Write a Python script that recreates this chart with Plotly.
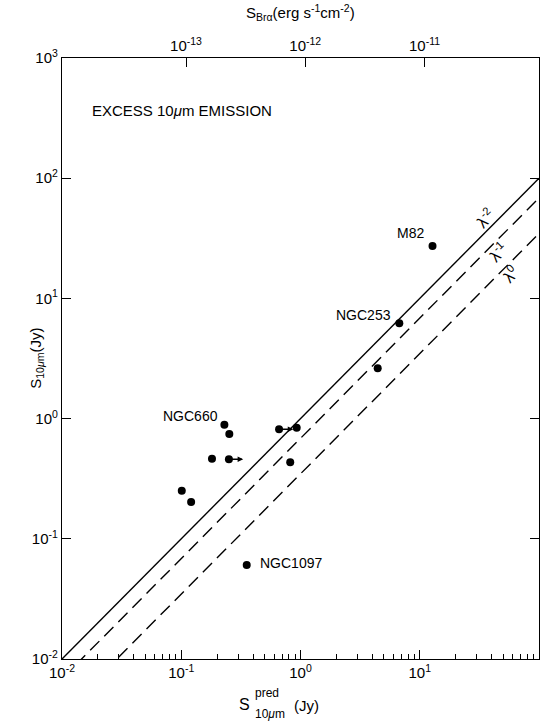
import numpy as np
import plotly.graph_objects as go

# ---- data ----
galaxy_names = ["M82", "NGC253", "", "NGC660", "", "", "", "", "", "", "", "", "NGC1097"]
s_pred = [12.8, 6.74, 4.44, 0.230, 0.253, 0.181, 0.251, 0.661, 0.929, 0.82, 0.101, 0.121, 0.354]
s_obs = [27.3, 6.2, 2.62, 0.89, 0.745, 0.464, 0.459, 0.815, 0.84, 0.433, 0.251, 0.202, 0.0605]
lower_limit = [False, False, False, False, False, False, True, True, False, False, False, False, False]

line_labels = ["λ<sup>-2</sup>", "λ<sup>-1</sup>", "λ<sup>0</sup>"]
line_factors = [1.0, 0.685, 0.347]
line_dashes = ["solid", "13px,7px", "13px,7px"]

x_ticks = [1e-2, 1e-1, 1e0, 1e1, 1e2]
x_ticktext = ["10<sup>-2</sup>", "10<sup>-1</sup>", "10<sup>0</sup>", "10<sup>1</sup>", "10<sup>2</sup>"]
y_ticks = [1e-2, 1e-1, 1e0, 1e1, 1e2, 1e3]
y_ticktext = ["10<sup>-2</sup>", "10<sup>-1</sup>", "10<sup>0</sup>", "10<sup>1</sup>",
              "10<sup>2</sup>", "10<sup>3</sup>"]
top_ticks = [1e-13, 1e-12, 1e-11]
top_ticktext = ["10<sup>-13</sup>", "10<sup>-12</sup>", "10<sup>-11</sup>"]

FONT = "Liberation Sans, Arial, sans-serif"
BLK = "black"
fig = go.Figure()

xx = np.array([1e-2, 1e2])
for f, d in zip(line_factors, line_dashes):
    fig.add_trace(go.Scatter(x=xx, y=f * xx, mode="lines",
                             line=dict(color=BLK, width=1.4, dash=d),
                             showlegend=False, hoverinfo="skip"))

fig.add_trace(go.Scatter(x=s_pred, y=s_obs, mode="markers",
                         marker=dict(color=BLK, size=8),
                         showlegend=False))

# invisible trace to keep the top axis alive
fig.add_trace(go.Scatter(x=[1e-12], y=[1], xaxis="x2", mode="markers",
                         marker=dict(opacity=0), showlegend=False, hoverinfo="skip"))

annotations = []
# arrows for lower limits
for xv, yv, ll in zip(s_pred, s_obs, lower_limit):
    if ll:
        annotations.append(dict(x=np.log10(xv) + 0.12, y=np.log10(yv),
                                ax=np.log10(xv), ay=np.log10(yv),
                                axref="x", ayref="y", xref="x", yref="y",
                                showarrow=True, arrowhead=2, arrowsize=0.8,
                                arrowwidth=1.4, arrowcolor=BLK, text=""))

# galaxy labels (pixel offsets from the dot)
label_offsets = {"M82": (-22, -13, "center"), "NGC253": (-6, -8, "right"),
                 "NGC660": (-34, -9, "center"), "NGC1097": (11, -2, "left")}
for n, xv, yv in zip(galaxy_names, s_pred, s_obs):
    if n:
        dx, dy, al = label_offsets[n]
        annotations.append(dict(x=np.log10(xv), y=np.log10(yv), xref="x", yref="y",
                                text=n, showarrow=False, xshift=dx, yshift=-dy,
                                xanchor=al, font=dict(size=14, family=FONT, color=BLK)))

# line labels
lab_pos = [(35.2, 46.7), (45.3, 24.3), (57.1, 16.0)]
for t, (lx, ly) in zip(line_labels, lab_pos):
    annotations.append(dict(x=np.log10(lx), y=np.log10(ly), xref="x", yref="y",
                            text=t, showarrow=False, textangle=-45,
                            font=dict(size=16, family=FONT, color=BLK)))

annotations.append(dict(x=0.058, y=0.93, xref="paper", yref="paper", xanchor="left",
                        text="EXCESS 10<i>μ</i>m EMISSION", showarrow=False,
                        font=dict(size=15, family=FONT, color=BLK)))

# axis titles
annotations.append(dict(x=-0.078, y=0.5, xref="paper", yref="paper", showarrow=False,
                        text="S<sub>10<i>μ</i>m</sub>(Jy)", textangle=-90,
                        font=dict(size=15, family=FONT, color=BLK)))
annotations.append(dict(x=0.398, y=-0.0765, xref="paper", yref="paper", showarrow=False,
                        yanchor="middle", xanchor="right", text="S",
                        font=dict(size=16, family=FONT, color=BLK)))
annotations.append(dict(x=0.400, y=-0.0566, xref="paper", yref="paper", showarrow=False,
                        yanchor="middle", xanchor="left", text="pred",
                        font=dict(size=12, family=FONT, color=BLK)))
annotations.append(dict(x=0.400, y=-0.0915, xref="paper", yref="paper", showarrow=False,
                        yanchor="middle", xanchor="left", text="10<i>μ</i>m",
                        font=dict(size=12, family=FONT, color=BLK)))
annotations.append(dict(x=0.482, y=-0.078, xref="paper", yref="paper", showarrow=False,
                        yanchor="middle", xanchor="left", text="(Jy)",
                        font=dict(size=15, family=FONT, color=BLK)))
annotations.append(dict(x=0.5, y=1.075, xref="paper", yref="paper", showarrow=False,
                        yanchor="middle",
                        text="S<sub>Brα</sub>(erg s<sup>-1</sup>cm<sup>-2</sup>)",
                        font=dict(size=15, family=FONT, color=BLK)))

minor_vals = [m * 10.0 ** e for e in range(-2, 2) for m in range(2, 10)]

fig.update_layout(
    width=550, height=721,
    margin=dict(l=62, r=11, t=58, b=62),
    paper_bgcolor="white", plot_bgcolor="white",
    font=dict(family=FONT, size=14, color=BLK),
    showlegend=False,
    annotations=annotations,
    xaxis=dict(type="log", range=[-2, 2], tickvals=x_ticks, ticktext=x_ticktext,
               ticks="inside", ticklen=9, tickwidth=1.2, tickcolor=BLK,
               showline=True, linecolor=BLK, linewidth=1.2, mirror=False,
               showgrid=False, zeroline=False,
               minor=dict(tickvals=minor_vals, ticks="inside", ticklen=5,
                          tickwidth=1, tickcolor=BLK, showgrid=False),
               tickfont=dict(size=15, family=FONT)),
    xaxis2=dict(type="log", range=[-14.04, -10.04], overlaying="x", side="top", anchor="y",
                tickvals=top_ticks, ticktext=top_ticktext,
                ticks="inside", ticklen=9, tickwidth=1.2, tickcolor=BLK,
                showline=True, linecolor=BLK, linewidth=1.2,
                showgrid=False, zeroline=False,
                tickfont=dict(size=15, family=FONT)),
    yaxis=dict(type="log", range=[-2, 3], tickvals=y_ticks, ticktext=y_ticktext,
               ticks="inside", ticklen=9, tickwidth=1.2, tickcolor=BLK,
               showline=True, linecolor=BLK, linewidth=1.2, mirror="ticks",
               showgrid=False, zeroline=False,
               tickfont=dict(size=15, family=FONT)),
)

fig.write_html("out.html")
